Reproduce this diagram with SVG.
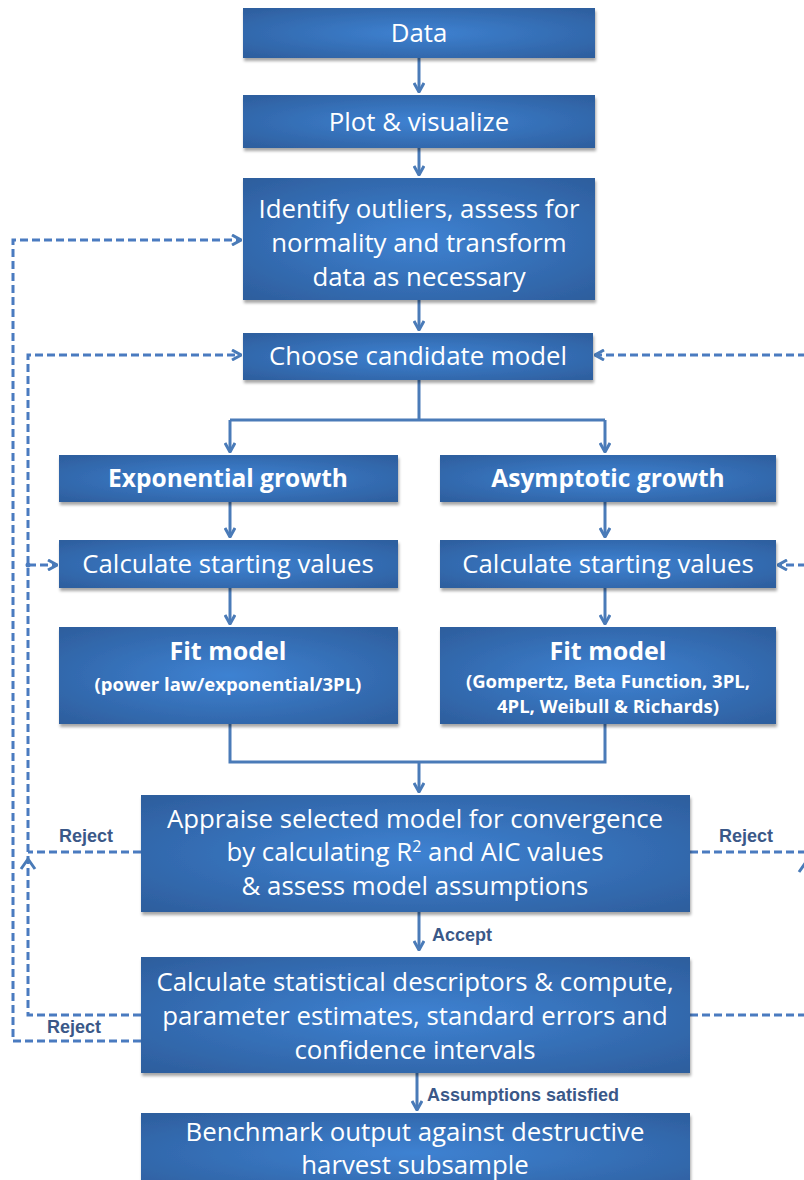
<svg xmlns="http://www.w3.org/2000/svg" width="804" height="1180" viewBox="0 0 804 1180">
<style>
.box{fill:url(#g);filter:url(#sh)}
.t{font-family:"Open Sans",Lato,sans-serif;font-size:25.8px;fill:#fff;text-anchor:middle}
.b{font-weight:bold;font-size:24.5px}
.f{font-size:25px;font-weight:bold}
.s{font-size:18.5px;font-weight:bold}
.c{fill:none;stroke:#4a7bb8;stroke-width:3}
.d{fill:none;stroke:#4a7bc0;stroke-width:3;stroke-dasharray:8 4}
.l{font-family:"Liberation Sans",Arial,sans-serif;font-size:18px;font-weight:bold;fill:#3a5888}
</style>
<defs>
<radialGradient id="g" cx="0.5" cy="0.5" r="0.75">
<stop offset="0" stop-color="#3e82d2"/>
<stop offset="1" stop-color="#2c5b99"/>
</radialGradient>
<filter id="sh" x="-5%" y="-10%" width="115%" height="130%">
<feDropShadow dx="1" dy="3" stdDeviation="1.5" flood-color="#000" flood-opacity="0.35"/>
</filter>
<marker id="a" viewBox="0 0 12 12" refX="11" refY="6" markerWidth="12" markerHeight="12" markerUnits="userSpaceOnUse" orient="auto">
<path d="M2,1 L11,6 L2,11" fill="none" stroke="#4a7bb8" stroke-width="3"/>
</marker>
</defs>
<rect width="804" height="1180" fill="#fff"/>
<g id="connectors">
<path class="c" d="M419,58 V92" marker-end="url(#a)"/>
<path class="c" d="M419,148 V175" marker-end="url(#a)"/>
<path class="c" d="M419,300 V330" marker-end="url(#a)"/>
<path class="c" d="M419,380 V420 M230,420 H605"/>
<path class="c" d="M230,420 V452" marker-end="url(#a)"/>
<path class="c" d="M605,420 V452" marker-end="url(#a)"/>
<path class="c" d="M230,502 V537" marker-end="url(#a)"/>
<path class="c" d="M605,502 V537" marker-end="url(#a)"/>
<path class="c" d="M230,588 V624" marker-end="url(#a)"/>
<path class="c" d="M605,588 V624" marker-end="url(#a)"/>
<path class="c" d="M230,724 V762 H605 V724"/>
<path class="c" d="M419,762 V792" marker-end="url(#a)"/>
<path class="c" d="M419,912 V950" marker-end="url(#a)"/>
<path class="c" d="M417,1073 V1110" marker-end="url(#a)"/>
<path class="d" d="M141,1041 H13 V240 H241" marker-end="url(#a)"/>
<path class="d" d="M141,1015 H28 V355 H241" marker-end="url(#a)"/>
<path class="d" d="M141,852 H28"/>
<path class="c" d="M21,869 L28,859 L35,869"/>
<path class="d" d="M28,565 H57" marker-end="url(#a)"/>
<circle cx="28" cy="565" r="2.5" fill="#4a7bc0"/>
<path class="d" d="M806,355 H595" marker-end="url(#a)"/>
<path class="d" d="M806,565 H778" marker-end="url(#a)"/>
<path class="d" d="M690,852 H806 M690,1015 H806 M806,1015 V355"/>
<path class="c" d="M799,872 L806,862 L813,872"/>
<text class="l" x="59" y="842">Reject</text>
<text class="l" x="47" y="1033">Reject</text>
<text class="l" x="719" y="842">Reject</text>
<text class="l" x="432" y="941">Accept</text>
<text class="l" x="427" y="1101">Assumptions satisfied</text>
</g>
<g id="n1"><rect class="box" x="243" y="8" width="352" height="50"/><text class="t" x="419" y="42">Data</text></g>
<g id="n2"><rect class="box" x="243" y="95" width="352" height="53"/><text class="t" x="419" y="131">Plot &amp; visualize</text></g>
<g id="n3"><rect class="box" x="243" y="178" width="352" height="122"/>
<text class="t" x="419" y="218">Identify outliers, assess for</text>
<text class="t" x="419" y="252">normality and transform</text>
<text class="t" x="419" y="286">data as necessary</text></g>
<g id="n4"><rect class="box" x="243" y="333" width="350" height="47"/><text class="t" x="418" y="365">Choose candidate model</text></g>
<g id="n5"><rect class="box" x="59" y="455" width="339" height="47"/><text class="t b" x="228" y="487">Exponential growth</text></g>
<g id="n6"><rect class="box" x="440" y="455" width="336" height="47"/><text class="t b" x="608" y="487">Asymptotic growth</text></g>
<g id="n7"><rect class="box" x="59" y="540" width="339" height="48"/><text class="t" x="228" y="573">Calculate starting values</text></g>
<g id="n8"><rect class="box" x="440" y="540" width="336" height="48"/><text class="t" x="608" y="573">Calculate starting values</text></g>
<g id="n9"><rect class="box" x="59" y="627" width="339" height="97"/>
<text class="t f" x="228" y="660">Fit model</text>
<text class="t s" x="228" y="691">(power law/exponential/3PL)</text></g>
<g id="n10"><rect class="box" x="440" y="627" width="336" height="97"/>
<text class="t f" x="608" y="660">Fit model</text>
<text class="t s" x="608" y="688">(Gompertz, Beta Function, 3PL,</text>
<text class="t s" x="608" y="713">4PL, Weibull &amp; Richards)</text></g>
<g id="n11"><rect class="box" x="141" y="795" width="549" height="117"/>
<text class="t" x="415" y="828">Appraise selected model for convergence</text>
<text class="t" x="415" y="861">by calculating R<tspan font-size="16" dy="-9">2</tspan><tspan dy="9"> and AIC values</tspan></text>
<text class="t" x="415" y="895">&amp; assess model assumptions</text></g>
<g id="n12"><rect class="box" x="141" y="957" width="549" height="116"/>
<text class="t" x="415" y="991">Calculate statistical descriptors &amp; compute,</text>
<text class="t" x="415" y="1025">parameter estimates, standard errors and</text>
<text class="t" x="415" y="1059">confidence intervals</text></g>
<g id="n13"><rect class="box" x="141" y="1113" width="549" height="80"/>
<text class="t" x="415" y="1141">Benchmark output against destructive</text>
<text class="t" x="415" y="1174">harvest subsample</text></g>
</svg>
